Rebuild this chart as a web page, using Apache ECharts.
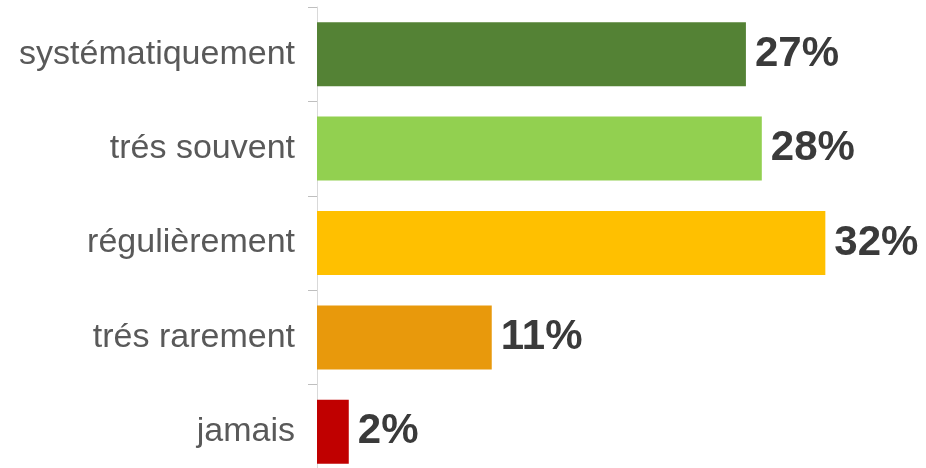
<!DOCTYPE html>
<html><head><meta charset="utf-8">
<script src="https://cdn.jsdelivr.net/npm/echarts@6/dist/echarts.min.js"></script>
<style>html,body{margin:0;padding:0;background:#fff;overflow:hidden;width:926px;height:468px}#c{width:926px;height:480px}</style>
</head><body><div id="c"></div>
<script>
const categories = ['systématiquement', 'trés souvent', 'régulièrement', 'trés rarement', 'jamais'];
const values = [27, 28, 32, 11, 2];
const colors = ['#548235', '#92D050', '#FFC000', '#E8990C', '#C00000'];

const chart = echarts.init(document.getElementById('c'));
chart.setOption({
  animation: false,
  grid: { left: 317, right: 53, top: 7, height: 472, containLabel: false },
  xAxis: { type: 'value', min: 0, max: 35, show: false },
  yAxis: {
    type: 'category', inverse: true, data: categories,
    axisLine: { show: true, lineStyle: { color: '#d9d9d9', width: 1 } },
    axisTick: { show: true, length: 9, lineStyle: { color: '#bfbfbf' } },
    axisLabel: { color: '#595959', fontSize: 34, fontFamily: 'Liberation Sans, Arial, sans-serif', margin: 22 }
  },
  series: [{
    type: 'bar',
    data: values.map((v, i) => ({ value: v, itemStyle: { color: colors[i] } })),
    barWidth: 64,
    label: {
      show: true, position: 'right', distance: 9,
      formatter: p => p.value + '%',
      color: '#3a3a3a', fontSize: 42, fontWeight: 'bold',
      fontFamily: 'Liberation Sans, Arial, sans-serif'
    }
  }]
});
</script></body></html>
